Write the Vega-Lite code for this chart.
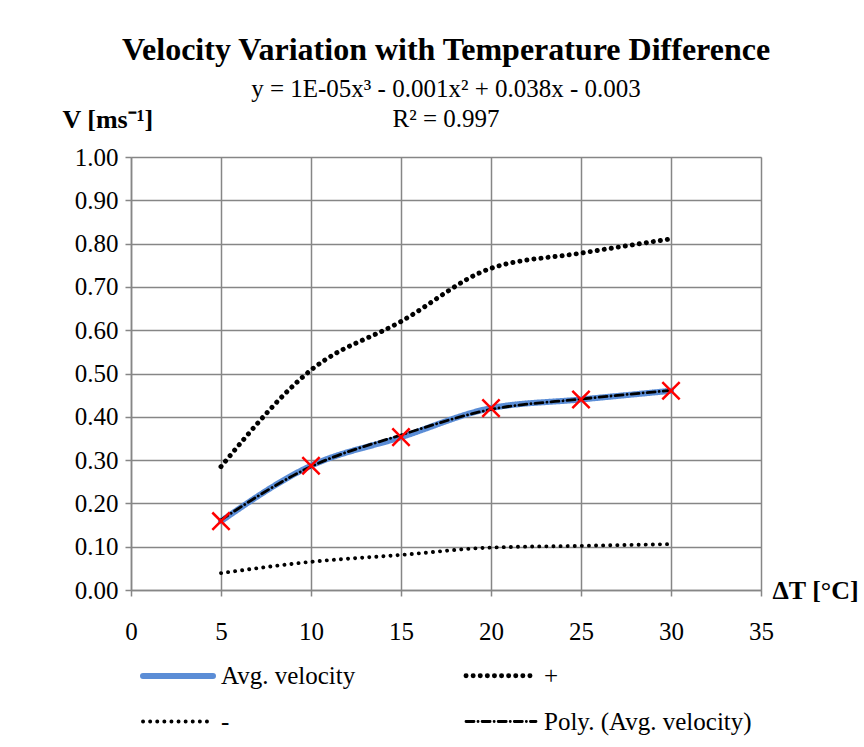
{
  "$schema": "https://vega.github.io/schema/vega-lite/v6.json",
  "autosize": "none",
  "width": 630,
  "height": 433,
  "padding": {"left": 131, "top": 157, "right": 103, "bottom": 157},
  "background": "white",
  "title": {
    "text": "Velocity Variation with Temperature Difference",
    "subtitle": ["y = 1E-05x³ - 0.001x² + 0.038x - 0.003", "R² = 0.997"],
    "font": "Liberation Serif",
    "fontSize": 32,
    "fontWeight": "bold",
    "color": "black",
    "subtitleFont": "Liberation Serif",
    "subtitleFontSize": 25,
    "subtitleColor": "black",
    "subtitleLineHeight": 30,
    "subtitlePadding": 10,
    "anchor": "middle",
    "frame": "group",
    "offset": -27
  },
  "data": {
    "values": [
      {"series": "Avg. velocity", "dT": 5, "v": 0.159},
      {"series": "Avg. velocity", "dT": 10, "v": 0.287},
      {"series": "Avg. velocity", "dT": 15, "v": 0.353},
      {"series": "Avg. velocity", "dT": 20, "v": 0.42},
      {"series": "Avg. velocity", "dT": 25, "v": 0.44},
      {"series": "Avg. velocity", "dT": 30, "v": 0.46},
      {"series": "+", "dT": 5, "v": 0.285},
      {"series": "+", "dT": 10, "v": 0.508},
      {"series": "+", "dT": 15, "v": 0.62},
      {"series": "+", "dT": 20, "v": 0.743},
      {"series": "+", "dT": 25, "v": 0.778},
      {"series": "+", "dT": 30, "v": 0.811},
      {"series": "-", "dT": 5, "v": 0.039},
      {"series": "-", "dT": 10, "v": 0.065},
      {"series": "-", "dT": 15, "v": 0.081},
      {"series": "-", "dT": 20, "v": 0.098},
      {"series": "-", "dT": 25, "v": 0.102},
      {"series": "-", "dT": 30, "v": 0.106},
      {"series": "Poly. (Avg. velocity)", "dT": 5, "v": 0.162},
      {"series": "Poly. (Avg. velocity)", "dT": 10, "v": 0.285},
      {"series": "Poly. (Avg. velocity)", "dT": 15, "v": 0.358},
      {"series": "Poly. (Avg. velocity)", "dT": 20, "v": 0.417},
      {"series": "Poly. (Avg. velocity)", "dT": 25, "v": 0.441},
      {"series": "Poly. (Avg. velocity)", "dT": 30, "v": 0.461}
    ]
  },
  "encoding": {
    "x": {
      "field": "dT", "type": "quantitative",
      "scale": {"domain": [0, 35], "nice": false, "zero": false},
      "axis": {
        "values": [0, 5, 10, 15, 20, 25, 30, 35],
        "title": "ΔT [°C]",
        "titleFont": "Liberation Serif", "titleFontSize": 26, "titleFontWeight": "bold", "titleColor": "black",
        "titleAngle": 0, "titleAlign": "left", "titleBaseline": "middle",
        "titleX": 641, "titleY": 0,
        "labelFont": "Liberation Serif", "labelFontSize": 25, "labelColor": "black",
        "labelPadding": 23, "labelFlush": false,
        "tickColor": "#868686", "tickSize": 6, "tickWidth": 1.5,
        "domainColor": "#868686", "domainWidth": 1.5,
        "grid": true, "gridColor": "#868686", "gridWidth": 1.5
      }
    },
    "y": {
      "field": "v", "type": "quantitative",
      "scale": {"domain": [0, 1], "nice": false},
      "axis": {
        "values": [0, 0.1, 0.2, 0.3, 0.4, 0.5, 0.6, 0.7, 0.8, 0.9, 1.0],
        "format": ".2f",
        "title": "V [ms⁻¹]",
        "titleFont": "Liberation Serif", "titleFontSize": 26, "titleFontWeight": "bold", "titleColor": "black",
        "titleAngle": 0, "titleAlign": "left", "titleBaseline": "alphabetic",
        "titleX": -69, "titleY": -30,
        "labelFont": "Liberation Serif", "labelFontSize": 25, "labelColor": "black",
        "labelPadding": 7, "labelFlush": false,
        "tickColor": "#868686", "tickSize": 6, "tickWidth": 1.5,
        "domainColor": "#868686", "domainWidth": 1.5,
        "grid": true, "gridColor": "#868686", "gridWidth": 1.5
      }
    }
  },
  "layer": [
    {
      "transform": [{"filter": "datum.series !== 'Poly. (Avg. velocity)'"}],
      "mark": {"type": "line", "interpolate": "monotone", "strokeCap": "round"},
      "encoding": {
        "color": {
          "field": "series", "type": "nominal",
          "scale": {"domain": ["Avg. velocity", "+", "-", "Poly. (Avg. velocity)"], "range": ["#5B8DD6", "black", "black", "black"]},
          "legend": {
            "orient": "none", "legendX": 9, "legendY": 506, "columns": 2, "direction": "horizontal",
            "title": null,
            "symbolType": "M-1,0L6,0", "symbolSize": 400,
            "labelFont": "Liberation Serif", "labelFontSize": 25, "labelColor": "black", "labelOffset": 55, "labelLimit": 400,
            "columnPadding": 100, "rowPadding": 20, "symbolLimit": 10,
            "encode": {"symbols": {"update": {"strokeCap": {"value": "round"}}}}
          }
        },
        "strokeDash": {
          "field": "series", "type": "nominal",
          "scale": {"domain": ["Avg. velocity", "+", "-", "Poly. (Avg. velocity)"], "range": [[1, 0], [0.1, 7], [0.1, 7], [8, 4, 0.1, 4]]},
          "legend": null
        },
        "strokeWidth": {
          "field": "series", "type": "nominal",
          "scale": {"domain": ["Avg. velocity", "+", "-", "Poly. (Avg. velocity)"], "range": [6, 2.8, 2.8, 1.3]},
          "legend": null
        }
      }
    },
    {
      "transform": [{"filter": "datum.series === 'Poly. (Avg. velocity)'"}],
      "mark": {"type": "line", "interpolate": "monotone", "strokeCap": "round"},
      "encoding": {
        "color": {"field": "series", "type": "nominal"},
        "strokeDash": {"field": "series", "type": "nominal"},
        "strokeWidth": {"field": "series", "type": "nominal"}
      }
    },
    {
      "transform": [{"filter": "datum.series === 'Avg. velocity'"}],
      "mark": {"type": "point", "shape": "M-1,-1L1,1M-1,1L1,-1", "filled": false, "stroke": "#FF0000", "strokeWidth": 2.5, "size": 300, "opacity": 1}
    }
  ]
}
